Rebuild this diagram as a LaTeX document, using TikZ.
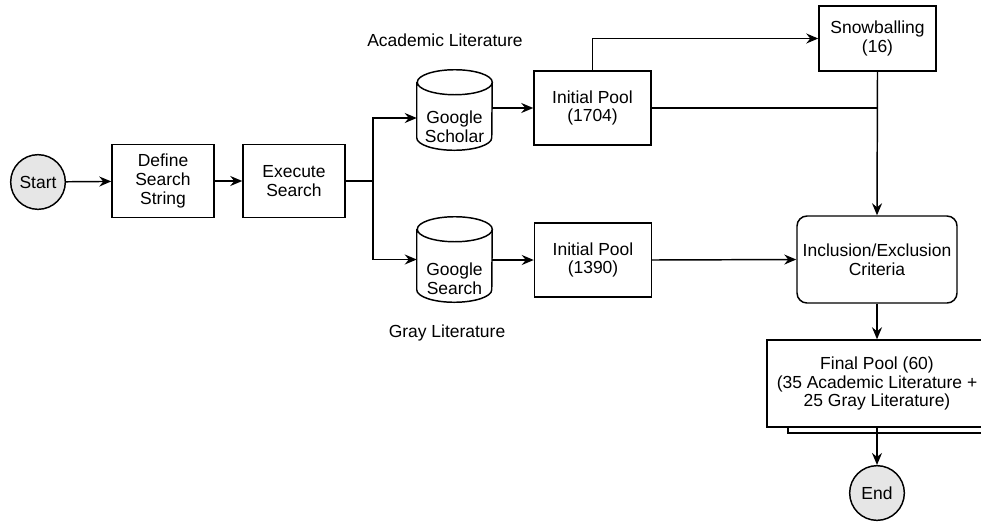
\documentclass[tikz,border=0pt]{standalone}
\usepackage{fontspec}
\setmainfont{Liberation Sans}
\usetikzlibrary{arrows.meta, calc, positioning, shadows, shapes.geometric}

\definecolor{termgray}{HTML}{E6E6E6}

% outline of a database drum round a named node
\newcommand{\drawdrum}[1]{%
	\draw[link] ([yshift=-9.375pt]#1.north west) -- ([yshift=9.375pt]#1.south west)
		arc[start angle=180, end angle=360, x radius=28.125pt, y radius=9.375pt]
		-- ([yshift=-9.375pt]#1.north east)
		arc[start angle=0, end angle=360, x radius=28.125pt, y radius=9.375pt];
}

\begin{document}
\begin{tikzpicture}[
	x=0.75pt, y=-0.75pt,
	every node/.style = {font=\fontsize{13.1}{14}\selectfont, align=center},
	link/.style = {line width=1.1pt},
	arrow/.style = {link, -{Stealth[length=9pt, width=7.5pt, inset=3pt]}},
	terminal/.style = {circle, draw, line width=1.1pt, fill=termgray, minimum size=41pt, inner sep=0pt},
	process/.style = {rectangle, draw, line width=1.1pt, minimum width=76.5pt, minimum height=54.75pt, inner sep=1pt},
	pool/.style = {process, minimum width=87.75pt, minimum height=55.5pt},
	database/.style = {rectangle, inner sep=0pt, minimum width=56.25pt, minimum height=#1},
	plain/.style = {inner sep=0pt}
]
\useasboundingbox (0,0) rectangle (981,522);

% main line
\node[terminal] (start) at (38,182) {Start};
\node[process] (define) at (163,181) {Define\\Search\\String};
\node[process] (execute) at (294,181) {Execute\\Search};
\coordinate (split) at (373,181);

% sources
\node[database=60pt] (scholar) at (454.5,110) {};
\node[plain] (scholar text) at (454.5,127) {Google\\Scholar};
\node[database=63.75pt] (search) at (454.5,259.5) {};
\node[plain] (search text) at (454.5,279) {Google\\Search};
\drawdrum{scholar}
\drawdrum{search}
\node (academic) at (445,40) {Academic Literature};
\node (gray) at (447,333) {Gray Literature};

\node[pool] (pool academic) at (592.5,108) {Initial Pool\\(1704)};
\node[pool] (pool gray) at (593,260) {Initial Pool\\(1390)};
\node[process, minimum width=87.75pt, minimum height=48.75pt] (snowballing) at (877.5,38.5) {Snowballing\\(16)};

% selection
\node[process, rounded corners=7.5pt, minimum width=120pt, minimum height=65.25pt] (criteria) at (877,259.5) {Inclusion/Exclusion\\Criteria};
\node[process, fill=white, minimum width=165pt, minimum height=65.25pt,
	copy shadow={shadow xshift=15.75pt, shadow yshift=-4.5pt, draw, line width=1.1pt}] (final) at (877,383.5) {Final Pool (60)\\(35 Academic Literature +\\25 Gray Literature)};
\node[terminal] (end) at (877,493) {End};

\draw[arrow] (start) -- (define);
\draw[arrow] (define) -- (execute);
\draw[link] (execute.east) -- (split);
\draw[arrow] (split) |- ($(scholar.west)+(0,8)$);
\draw[arrow] (split) |- (search.west);
\draw[arrow] (scholar.east |- pool academic.west) -- (pool academic.west);
\draw[arrow] (search.east |- pool gray.west) -- (pool gray.west);
\draw[arrow] (pool academic.north) |- (snowballing.west);
\draw[link] (pool academic.east) -- (pool academic.east -| snowballing.south);
\draw[arrow] (snowballing.south) -- (criteria.north);
\draw[arrow] (pool gray.east) -- (criteria.west);
\draw[arrow] (criteria.south) -- (final.north);
\draw[arrow] (final.south) -- (end.north);

\end{tikzpicture}
\end{document}
